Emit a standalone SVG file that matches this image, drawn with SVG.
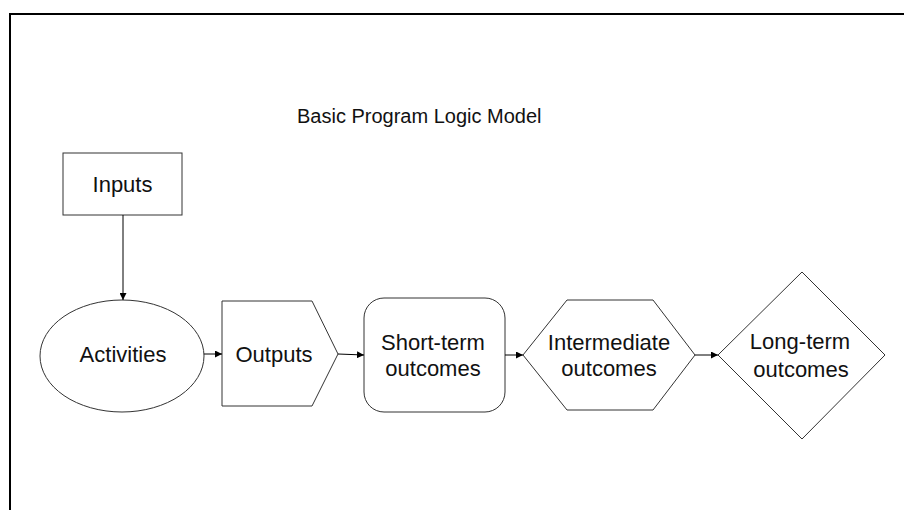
<svg xmlns="http://www.w3.org/2000/svg" width="904" height="510" viewBox="0 0 904 510">
<style>
.shape{fill:#ffffff;stroke:#333333;stroke-width:1}
.lbl{font-family:"Liberation Sans",Arial,sans-serif;font-size:22px;fill:#111111;text-anchor:middle}
.title{font-family:"Liberation Sans",Arial,sans-serif;font-size:20px;fill:#111111}
.conn{fill:none;stroke:#000000;stroke-width:1;marker-end:url(#arr)}
</style>
<defs>
<marker id="arr" viewBox="0 0 10 10" refX="10" refY="5" markerWidth="7" markerHeight="7" markerUnits="userSpaceOnUse" orient="auto">
<path d="M0,0 L10,5 L0,10 z" fill="#000000"/>
</marker>
</defs>
<rect width="904" height="510" fill="#ffffff"/>
<path d="M10,510 V14 H904" fill="none" stroke="#000000" stroke-width="2"/>
<text class="title" x="297" y="123">Basic Program Logic Model</text>
<g id="inputs">
<rect class="shape" x="63" y="153" width="119" height="62"/>
<text class="lbl" x="122.5" y="192">Inputs</text>
</g>
<g id="activities">
<ellipse class="shape" cx="122" cy="356" rx="82" ry="56"/>
<text class="lbl" x="123" y="362">Activities</text>
</g>
<g id="outputs">
<polygon class="shape" points="222,301 312,301 338,354 312,406 222,406"/>
<text class="lbl" x="274" y="362">Outputs</text>
</g>
<g id="short-term">
<rect class="shape" x="364" y="298" width="141" height="114" rx="20" ry="20"/>
<text class="lbl" x="433" y="350">Short-term</text>
<text class="lbl" x="433" y="376">outcomes</text>
</g>
<g id="intermediate">
<polygon class="shape" points="523,355 567,300 653,300 695,355 653,410 567,410"/>
<text class="lbl" x="609" y="350">Intermediate</text>
<text class="lbl" x="609" y="376">outcomes</text>
</g>
<g id="long-term">
<polygon class="shape" points="718,355 802,272 885,355 802,439"/>
<text class="lbl" x="800" y="349">Long-term</text>
<text class="lbl" x="801" y="377">outcomes</text>
</g>
<g id="connectors">
<line class="conn" x1="123" y1="215" x2="123" y2="300"/>
<line class="conn" x1="204" y1="354" x2="222" y2="354"/>
<line class="conn" x1="338" y1="354" x2="364" y2="355"/>
<line class="conn" x1="505" y1="355" x2="523" y2="355"/>
<line class="conn" x1="695" y1="355" x2="718" y2="355"/>
</g>
</svg>
